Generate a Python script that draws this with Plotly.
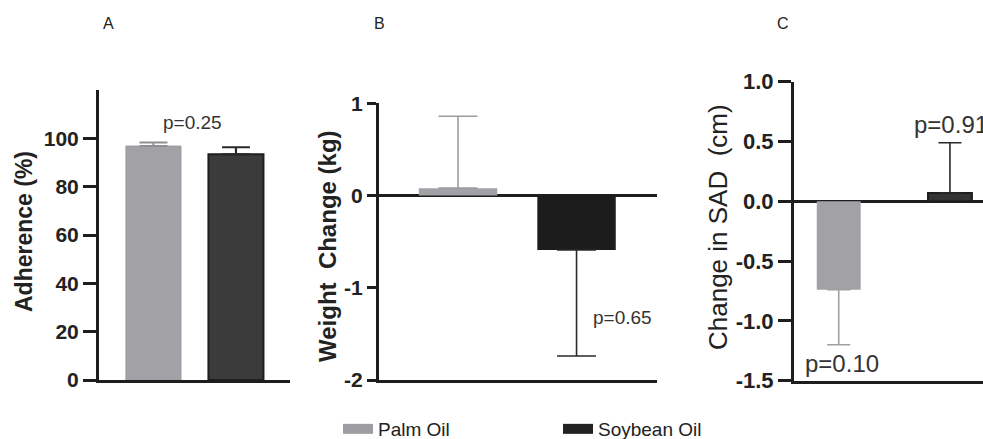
import plotly.graph_objects as go

W, H = 983, 439

groups = ["Palm Oil", "Soybean Oil"]
pos = [0, 1]

# Panel A: adherence (%)
adh_mean = [96.8, 93.4]
adh_err_up = [1.5, 2.9]
adh_ticks = [0, 20, 40, 60, 80, 100]

# Panel B: weight change (kg)
wt_mean = [0.08, -0.59]
wt_err_up = [0.78, 0.0]
wt_err_down = [0.0, 1.15]
wt_ticks = [-2, -1, 0, 1]
wt_ticktext = ["-2", "-1", "0", "1"]

# Panel C: change in SAD (cm)
sad_mean = [-0.74, 0.07]
sad_err_up = [0.0, 0.42]
sad_err_down = [0.46, 0.0]
sad_ticks = [-1.5, -1.0, -0.5, 0.0, 0.5, 1.0]
sad_ticktext = ["-1.5", "-1.0", "-0.5", "0.0", "0.5", "1.0"]

p_A = ["p=0.25"]
p_B = ["p=0.49", "p=0.65"]
p_C = ["p=0.10", "p=0.91"]

PALM = "#a2a1a6"
SOY_A = "#3b3b3b"
SOY_B = "#1c1c1c"
SOY_C = "#343434"
AX = "#1e1e1e"
FONT = "Liberation Sans, Arial, sans-serif"


def px_x(a, b):
    return [a / W, b / W]


def px_y(top, bottom):
    return [1 - bottom / H, 1 - top / H]


fig = go.Figure()

# ---- Panel A
fig.add_trace(go.Bar(x=[pos[0]], y=[adh_mean[0]], width=0.667, xaxis="x", yaxis="y",
                     marker=dict(color=PALM, line=dict(color="#9a999e", width=1)),
                     error_y=dict(type="data", symmetric=False, array=[adh_err_up[0]], arrayminus=[0],
                                  color="#8f8e93", thickness=2, width=14),
                     showlegend=False))
fig.add_trace(go.Bar(x=[pos[1]], y=[adh_mean[1]], width=0.667, xaxis="x", yaxis="y",
                     marker=dict(color=SOY_A, line=dict(color="#1e1e1e", width=2)),
                     error_y=dict(type="data", symmetric=False, array=[adh_err_up[1]], arrayminus=[0],
                                  color="#2a2a2a", thickness=2.2, width=14),
                     showlegend=False))

# ---- Panel B
fig.add_trace(go.Bar(x=[pos[0]], y=[wt_mean[0]], width=0.662, xaxis="x2", yaxis="y2",
                     marker=dict(color=PALM, line=dict(width=0)),
                     error_y=dict(type="data", symmetric=False, array=[wt_err_up[0]], arrayminus=[wt_err_down[0]],
                                  color="#9c9ca0", thickness=1.6, width=19.5),
                     showlegend=False))
fig.add_trace(go.Bar(x=[pos[1]], y=[wt_mean[1]], width=0.662, xaxis="x2", yaxis="y2",
                     marker=dict(color=SOY_B, line=dict(width=0)),
                     error_y=dict(type="data", symmetric=False, array=[wt_err_up[1]], arrayminus=[wt_err_down[1]],
                                  color="#2a2a2a", thickness=1.6, width=19.5),
                     showlegend=False))

# ---- Panel C
fig.add_trace(go.Bar(x=[pos[0]], y=[sad_mean[0]], width=0.395, xaxis="x3", yaxis="y3",
                     marker=dict(color=PALM, line=dict(width=0)),
                     error_y=dict(type="data", symmetric=False, array=[sad_err_up[0]], arrayminus=[sad_err_down[0]],
                                  color="#a0a0a0", thickness=1.6, width=11.5),
                     showlegend=False))
fig.add_trace(go.Bar(x=[pos[1]], y=[sad_mean[1]], width=0.395, xaxis="x3", yaxis="y3",
                     marker=dict(color=SOY_C, line=dict(color="#1e1e1e", width=2)),
                     error_y=dict(type="data", symmetric=False, array=[sad_err_up[1]], arrayminus=[sad_err_down[1]],
                                  color="#2a2a2a", thickness=1.6, width=11.5),
                     showlegend=False))

# ---- legend entries
for name, col in zip(groups, ["#9e9da2", "#222222"]):
    fig.add_trace(go.Scatter(x=[None], y=[None], mode="lines", name=name, xaxis="x", yaxis="y",
                             line=dict(color=col, width=12)))

common_x = dict(showgrid=False, zeroline=False, showticklabels=False, ticks="",
                showline=True, linecolor=AX, linewidth=3, fixedrange=True)
common_y = dict(showgrid=False, showline=True, linecolor=AX, linewidth=3, ticks="outside",
                tickcolor=AX, tickwidth=2.5, fixedrange=True)
TF = dict(family=FONT, size=21, color="#222", weight="bold")

fig.update_layout(
    width=W, height=H, margin=dict(l=0, r=0, t=0, b=0, autoexpand=False),
    paper_bgcolor="white", plot_bgcolor="white",
    font=dict(family=FONT, color="#222"),
    barmode="overlay",
    xaxis=dict(domain=px_x(99, 290), range=[-0.66, 1.655], anchor="y", **common_x),
    yaxis=dict(domain=px_y(90, 380), range=[0, 120], anchor="x", tickvals=adh_ticks,
               ticklen=13, zeroline=False, tickfont=TF, **common_y),
    xaxis2=dict(domain=px_x(379, 657), range=[-0.667, 1.679], anchor="y2", **common_x),
    yaxis2=dict(domain=px_y(103.3, 380), range=[-2, 1], anchor="x2", tickvals=wt_ticks, ticktext=wt_ticktext,
                ticklen=9, zeroline=True, zerolinecolor=AX, zerolinewidth=2.5, tickfont=TF, **common_y),
    xaxis3=dict(domain=[794 / W, 1.0], range=[-0.402, 1.297], anchor="y3", **common_x),
    yaxis3=dict(domain=px_y(81.7, 380.7), range=[-1.5, 1.0], anchor="x3",
                tickvals=sad_ticks, ticktext=sad_ticktext,
                ticklen=13, zeroline=True, zerolinecolor=AX, zerolinewidth=2.5,
                tickfont=dict(TF, size=22), **common_y),
    legend=dict(orientation="h", x=338 / W, y=1 - 429 / H, xanchor="left", yanchor="middle",
                xref="container", yref="container",
                font=dict(family=FONT, size=19, color="#222"), entrywidth=175, entrywidthmode="pixels",
                bgcolor="rgba(0,0,0,0)"),
)

ann = []
# panel letters
for letter, xp in zip(["A", "B", "C"], [108, 379, 783]):
    ann.append(dict(text=letter, x=xp / W, y=1 - 23 / H, xref="paper", yref="paper",
                    xanchor="center", yanchor="middle",
                    showarrow=False, font=dict(family=FONT, size=16, color="#222")))
# y titles
ann.append(dict(text="<b>Adherence (%)</b>", x=24 / W, y=1 - 232 / H, xref="paper", yref="paper",
                xanchor="center", yanchor="middle",
                textangle=-90, showarrow=False, font=dict(family=FONT, size=23, color="#222")))
ann.append(dict(text="<b>Weight\u00a0 Change (kg)</b>", x=327 / W, y=1 - 246 / H, xref="paper", yref="paper",
                xanchor="center", yanchor="middle",
                textangle=-90, showarrow=False, font=dict(family=FONT, size=24, color="#222")))
ann.append(dict(text="Change in SAD\u00a0 (cm)", x=718 / W, y=1 - 227 / H, xref="paper", yref="paper",
                xanchor="center", yanchor="middle",
                textangle=-90, showarrow=False, font=dict(family=FONT, size=26, color="#222")))
# p values
ann.append(dict(text=p_A[0], x=0.479, y=106.7, xref="x", yref="y", showarrow=False,
                xanchor="center", yanchor="middle",
                font=dict(family=FONT, size=19, color="#333")))
ann.append(dict(text=p_B[0], x=0.0, y=1.28, xref="x2", yref="y2", showarrow=False,
                xanchor="center", yanchor="middle",
                font=dict(family=FONT, size=19, color="#333")))
ann.append(dict(text=p_B[1], x=1.384, y=-1.318, xref="x2", yref="y2", showarrow=False,
                xanchor="center", yanchor="middle",
                font=dict(family=FONT, size=19, color="#333")))
ann.append(dict(text=p_C[0], x=-0.318, y=-1.352, xref="x3", yref="y3", xanchor="left", yanchor="middle",
                showarrow=False, font=dict(family=FONT, size=24, color="#333")))
ann.append(dict(text=p_C[1], x=0.659, y=0.646, xref="x3", yref="y3", xanchor="left", yanchor="middle",
                showarrow=False, font=dict(family=FONT, size=24, color="#333")))
fig.update_layout(annotations=ann)

fig.write_html("out.html")
